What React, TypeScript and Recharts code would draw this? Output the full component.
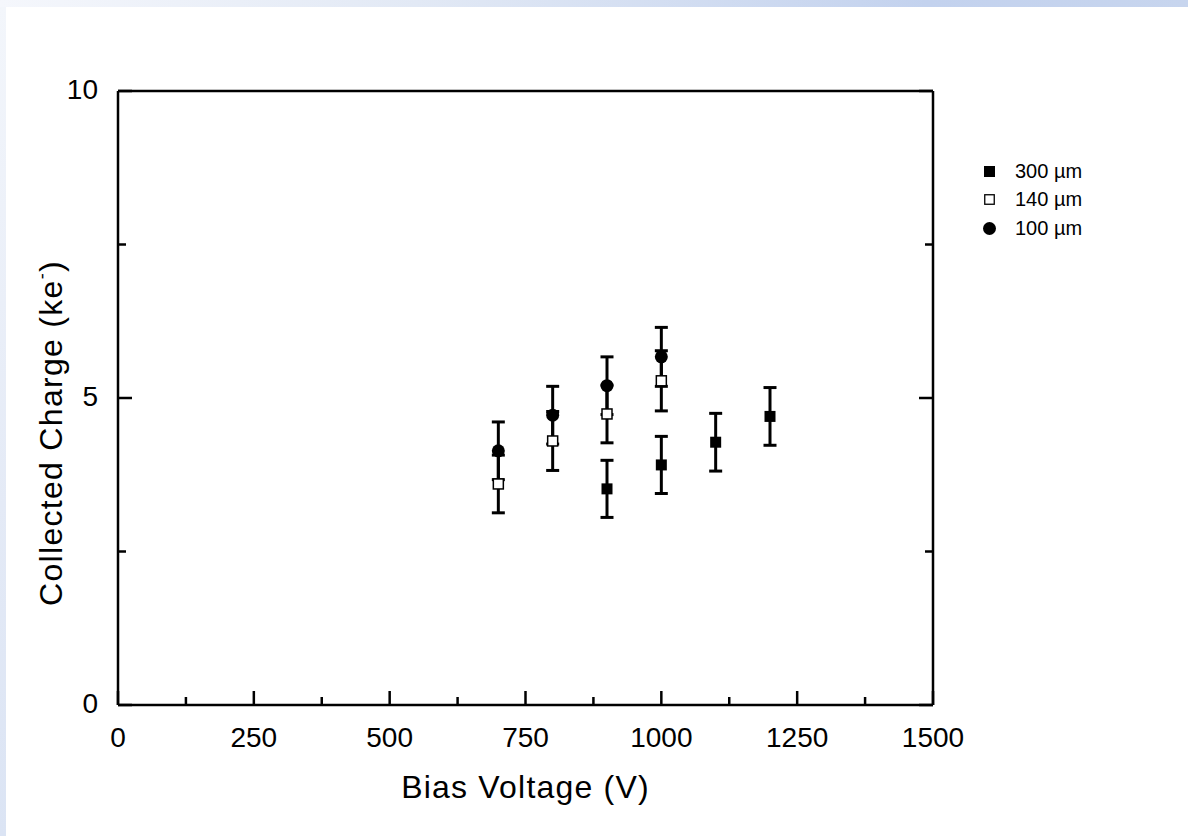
import React from 'react';
import { ScatterChart, Scatter, XAxis, YAxis, ErrorBar, Legend } from 'recharts';

// ---- data ----
const voltage300 = [900, 1000, 1100, 1200];
const charge300 = [3.52, 3.91, 4.28, 4.7];
const err300 = [0.465, 0.465, 0.47, 0.47];

const voltage140 = [700, 800, 900, 1000];
const charge140 = [3.6, 4.3, 4.74, 5.28];
const err140 = [0.47, 0.48, 0.47, 0.49];

const voltage100 = [700, 800, 900, 1000];
const charge100 = [4.14, 4.72, 5.2, 5.67];
const err100 = [0.47, 0.47, 0.47, 0.48];

const seriesNames = ['300 µm', '140 µm', '100 µm'];
const xTicks = [0, 125, 250, 375, 500, 625, 750, 875, 1000, 1125, 1250, 1375, 1500];
const yTicks = [0, 2.5, 5, 7.5, 10];
const xTitle = 'Bias Voltage (V)';
const yTitle = 'Collected Charge (ke';

const build = (xs: number[], ys: number[], es: number[]) =>
  xs.map((x, i) => ({ x, y: ys[i], err: es[i] }));

const data300 = build(voltage300, charge300, err300);
const data140 = build(voltage140, charge140, err140);
const data100 = build(voltage100, charge100, err100);

const FONT = '"Liberation Sans", Arial, Helvetica, sans-serif';
const MAJOR = 14;
const MINOR = 8;
const TW = 2.5;

const isMajorX = (v: number) => v % 250 === 0;
const isMajorY = (v: number) => v % 5 === 0;

const BottomTick = (props: any) => {
  const { x, y, payload } = props;
  const major = isMajorX(payload.value);
  return (
    <g>
      <line x1={x} y1={y} x2={x} y2={y - (major ? MAJOR : MINOR)} stroke="#000" strokeWidth={TW} />
      {major && (
        <text x={x} y={y + 42} textAnchor="middle" fontSize={28} fontFamily={FONT} fill="#000">
          {payload.value}
        </text>
      )}
    </g>
  );
};

const TopTick = (props: any) => {
  const { x, y, payload } = props;
  const major = isMajorX(payload.value);
  return <line x1={x} y1={y} x2={x} y2={y + (major ? MAJOR : MINOR)} stroke="#000" strokeWidth={TW} />;
};

const LeftTick = (props: any) => {
  const { x, y, payload } = props;
  const major = isMajorY(payload.value);
  return (
    <g>
      <line x1={x} y1={y} x2={x + (major ? MAJOR : MINOR)} y2={y} stroke="#000" strokeWidth={TW} />
      {major && (
        <text x={x - 20} y={y + 8} textAnchor="end" fontSize={28} fontFamily={FONT} fill="#000">
          {payload.value}
        </text>
      )}
    </g>
  );
};

const RightTick = (props: any) => {
  const { x, y, payload } = props;
  const major = isMajorY(payload.value);
  return <line x1={x} y1={y} x2={x - (major ? MAJOR : MINOR)} y2={y} stroke="#000" strokeWidth={TW} />;
};

const XTitle = (props: any) => {
  const vb = props.viewBox || {};
  return (
    <text
      x={vb.x + vb.width / 2}
      y={vb.y + 93}
      textAnchor="middle"
      fontSize={32}
      letterSpacing={1.2}
      fontFamily={FONT}
      fill="#000"
    >
      {xTitle}
    </text>
  );
};

const YTitle = (props: any) => {
  const vb = props.viewBox || {};
  const cx = vb.x + vb.width - 56;
  const cy = vb.y + vb.height / 2 + 35;
  return (
    <text
      x={cx}
      y={cy}
      transform={`rotate(-90 ${cx} ${cy})`}
      textAnchor="middle"
      fontSize={32}
      letterSpacing={1.3}
      fontFamily={FONT}
      fill="#000"
    >
      {yTitle}
      <tspan dy={-14} fontSize={18}>-</tspan>
      <tspan dy={14}>)</tspan>
    </text>
  );
};

const FilledSquare = (p: any) => (
  <rect x={p.cx - 5.5} y={p.cy - 5.5} width={11} height={11} fill="#000" />
);
const OpenSquare = (p: any) => (
  <rect x={p.cx - 5} y={p.cy - 5} width={10} height={10} fill="#fff" stroke="#000" strokeWidth={1.5} />
);
const FilledCircle = (p: any) => <circle cx={p.cx} cy={p.cy} r={6.5} fill="#000" />;

const legendMarkers = [
  <rect x={2} y={2} width={11} height={11} fill="#000" />,
  <rect x={2.75} y={2.75} width={9.5} height={9.5} fill="#fff" stroke="#000" strokeWidth={1.3} />,
  <circle cx={7.5} cy={7.5} r={6.5} fill="#000" />,
];

const LegendContent = () => (
  <div style={{ fontFamily: FONT, fontSize: 20, color: '#000' }}>
    {seriesNames.map((name, i) => (
      <div key={name} style={{ display: 'flex', alignItems: 'center', height: 28.5 }}>
        <svg width={15} height={15} style={{ marginRight: 18 }}>
          {legendMarkers[i]}
        </svg>
        <span>{name}</span>
      </div>
    ))}
  </div>
);

export default function App() {
  return (
    <div style={{ position: 'absolute', left: 0, top: 0, width: 1188, height: 836, background: '#fff', overflow: 'hidden' }}>
      <div
        style={{
          position: 'absolute',
          left: 0,
          top: 0,
          width: 1188,
          height: 7,
          background: 'linear-gradient(to right, #f5f7fc 0%, #e2e9f5 35%, #c3d2ee 78%, #c7d5ee 100%)',
        }}
      />
      <div
        style={{
          position: 'absolute',
          left: 0,
          top: 7,
          width: 6,
          height: 829,
          background: 'linear-gradient(to bottom, #f3f6fb 0%, #e4eaf6 60%, #dbe4f4 100%)',
        }}
      />
      <div style={{ position: 'absolute', left: 0, top: 0 }}>
        <ScatterChart
          width={1188}
          height={836}
          margin={{ top: 90, left: 117, right: 254, bottom: 130 }}
          style={{ fontFamily: FONT }}
        >
          <XAxis
            xAxisId="bottom"
            dataKey="x"
            type="number"
            domain={[0, 1500]}
            ticks={xTicks}
            interval={0}
            height={1}
            tickSize={0}
            tickMargin={0}
            tickLine={false}
            axisLine={{ stroke: '#000', strokeWidth: TW }}
            tick={<BottomTick />}
            allowDataOverflow
            label={(p: any) => <XTitle {...p} />}
          />
          <XAxis
            xAxisId="top"
            orientation="top"
            type="number"
            domain={[0, 1500]}
            ticks={xTicks}
            interval={0}
            height={1}
            tickSize={0}
            tickMargin={0}
            tickLine={false}
            axisLine={{ stroke: '#000', strokeWidth: TW }}
            tick={<TopTick />}
            allowDataOverflow
          />
          <YAxis
            yAxisId="left"
            dataKey="y"
            type="number"
            domain={[0, 10]}
            ticks={yTicks}
            interval={0}
            width={1}
            tickSize={0}
            tickMargin={0}
            tickLine={false}
            axisLine={{ stroke: '#000', strokeWidth: TW }}
            tick={<LeftTick />}
            allowDataOverflow
            label={(p: any) => <YTitle {...p} />}
          />
          <YAxis
            yAxisId="right"
            orientation="right"
            type="number"
            domain={[0, 10]}
            ticks={yTicks}
            interval={0}
            width={1}
            tickSize={0}
            tickMargin={0}
            tickLine={false}
            axisLine={{ stroke: '#000', strokeWidth: TW }}
            tick={<RightTick />}
            allowDataOverflow
          />
          <Scatter
            name={seriesNames[0]}
            data={data300}
            xAxisId="bottom"
            yAxisId="left"
            shape={FilledSquare}
            isAnimationActive={false}
          >
            <ErrorBar dataKey="err" direction="y" width={6.5} strokeWidth={3} stroke="#000" isAnimationActive={false} />
          </Scatter>
          <Scatter
            name={seriesNames[1]}
            data={data140}
            xAxisId="bottom"
            yAxisId="left"
            shape={OpenSquare}
            isAnimationActive={false}
          >
            <ErrorBar dataKey="err" direction="y" width={6.5} strokeWidth={3} stroke="#000" isAnimationActive={false} />
          </Scatter>
          <Scatter
            name={seriesNames[2]}
            data={data100}
            xAxisId="bottom"
            yAxisId="left"
            shape={FilledCircle}
            isAnimationActive={false}
          >
            <ErrorBar dataKey="err" direction="y" width={6.5} strokeWidth={3} stroke="#000" isAnimationActive={false} />
          </Scatter>
          <Legend
            layout="vertical"
            align="center"
            verticalAlign="middle"
            content={<LegendContent />}
            wrapperStyle={{ left: 982, top: 157, width: 180, height: 90 }}
          />
        </ScatterChart>
      </div>
    </div>
  );
}
